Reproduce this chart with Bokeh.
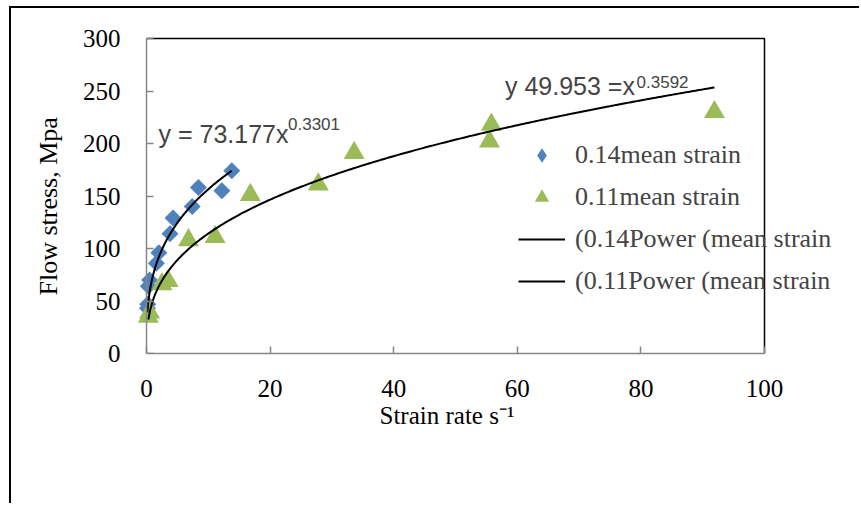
import numpy as np
from bokeh.plotting import figure
from bokeh.models import (FixedTicker, Legend, LegendItem, Label, Range1d, LinearAxis,
                          Title, CustomJSTickFormatter)
from bokeh.embed import file_html
from bokeh.resources import INLINE

# ---- data ----
rate_014 = [0.15, 0.2, 0.3, 0.5, 1.6, 2.0, 3.8, 4.3, 7.4, 8.4, 12.2, 13.8]
stress_014 = [43, 47, 64, 70, 86, 96, 114, 129, 140, 158, 155, 174]
rate_011 = [0.3, 0.5, 2.5, 3.5, 6.8, 11.1, 16.8, 27.8, 33.6, 55.5, 55.8, 91.9]
stress_011 = [35, 39, 66, 69, 108, 111, 151, 161, 191, 202, 218, 230]
# power trendline coefficients shown on the chart: y = a * x^b
fit_014 = (73.177, 0.3301)
fit_011 = (49.953, 0.3592)
x_ticks = [0, 20, 40, 60, 80, 100]
y_ticks = [0, 50, 100, 150, 200, 250, 300]
series_labels = ["0.14mean strain", "0.11mean strain",
                 "(0.14Power (mean strain", "(0.11Power (mean strain"]
x_title = "Strain rate s\u207b\u00b9"
y_title = "Flow stress, Mpa"

SERIF = "Liberation Serif"
SANS = "Liberation Sans"
AXIS_GREY = "#868686"
BLUE = "#4F81BD"
GREEN = "#9BBB59"

# ---- layout (pixels) ----
W, H = 850, 497             # canvas, placed 11px right / 8px down by margin+border
PLOT_W, PLOT_H = 618, 315   # size of the 0..100 x 0..300 box
PAD_L, PAD_R, PAD_T = 13, 86, 8   # frame extends past the box so nothing is clipped
px_x = PLOT_W / (x_ticks[-1] - x_ticks[0])
px_y = PLOT_H / (y_ticks[-1] - y_ticks[0])
x_range = Range1d(x_ticks[0] - PAD_L / px_x, x_ticks[-1] + PAD_R / px_x)
y_range = Range1d(y_ticks[0], y_ticks[-1] + PAD_T / px_y)

frame_left = 135 - PAD_L
frame_top = 30 - PAD_T
frame_w = PLOT_W + PAD_L + PAD_R
frame_h = PLOT_H + PAD_T

p = figure(width=W, height=H,
           min_border_left=frame_left, min_border_right=W - frame_left - frame_w,
           min_border_top=frame_top, min_border_bottom=H - frame_top - frame_h,
           x_range=x_range, y_range=y_range,
           output_backend="svg", toolbar_location=None)
p.margin = (6, 0, 0, 9)
p.styles = {"border-left": "2px solid black", "border-top": "2px solid black"}
p.outline_line_color = None
p.background_fill_color = "white"
p.border_fill_color = "white"
p.xgrid.visible = False
p.ygrid.visible = False


def style_axis(ax):
    ax.axis_line_color = AXIS_GREY
    ax.axis_line_width = 1.5
    ax.major_tick_line_color = AXIS_GREY
    ax.major_tick_line_width = 1.5
    ax.major_tick_in = 7
    ax.major_tick_out = 0
    ax.minor_tick_line_color = None
    ax.major_label_text_font = SERIF
    ax.major_label_text_font_size = "25px"
    ax.major_label_text_color = "black"


# x axis: line, ticks and labels
xax = p.xaxis[0]
style_axis(xax)
xax.ticker = FixedTicker(ticks=x_ticks)
xax.bounds = (x_ticks[0], x_ticks[-1])
xax.major_label_standoff = 26

# y axis labels (left panel, no line)
yax = p.yaxis[0]
style_axis(yax)
yax.ticker = FixedTicker(ticks=y_ticks)
yax.axis_line_color = None
yax.major_tick_line_color = None
yax.major_label_standoff = 13

# y axis line and ticks at x = 0
yline = LinearAxis(fixed_location=x_ticks[0], ticker=FixedTicker(ticks=y_ticks),
                   bounds=(y_ticks[0], y_ticks[-1]),
                   formatter=CustomJSTickFormatter(code="return ''"))
style_axis(yline)
yline.major_label_standoff = 0
p.add_layout(yline, "left")

# axis titles
p.add_layout(Title(text=x_title, align="left", offset=246, standoff=0,
                   text_font=SERIF, text_font_size="25px", text_font_style="normal",
                   text_color="black"),
             "below")
p.add_layout(Title(text=y_title, align="left", offset=58, standoff=34,
                   text_font=SERIF, text_font_size="26px", text_font_style="normal",
                   text_color="black"),
             "left")

# top and right edges of the plot box
p.line([x_ticks[0], x_ticks[-1], x_ticks[-1]], [y_ticks[-1], y_ticks[-1], y_ticks[0]],
       line_color="black", line_width=1.5)

r1 = p.scatter(rate_014, stress_014, marker="square", size=12, angle=np.pi / 4,
               fill_color=BLUE, line_color=None)
r2 = p.scatter(rate_011, stress_011, marker="triangle", size=21,
               fill_color=GREEN, line_color=None)

xs1 = np.linspace(min(rate_014), max(rate_014), 300)
xs2 = np.linspace(min(rate_011), max(rate_011), 300)
r3 = p.line(xs1, fit_014[0] * xs1 ** fit_014[1], line_color="black", line_width=2)
r4 = p.line(xs2, fit_011[0] * xs2 ** fit_011[1], line_color="black", line_width=2)

# legend swatch for the diamonds (the legend draws markers unrotated)
r1_key = p.scatter(x=[float("nan")], y=[float("nan")], marker="diamond",
                   fill_color=BLUE, line_color=None)

legend = Legend(items=[LegendItem(label=series_labels[0], renderers=[r1_key]),
                       LegendItem(label=series_labels[1], renderers=[r2]),
                       LegendItem(label=series_labels[2], renderers=[r3]),
                       LegendItem(label=series_labels[3], renderers=[r4])],
                location=(385, 51), border_line_color=None, background_fill_alpha=0,
                padding=0, margin=0, spacing=0, glyph_width=47, glyph_height=36,
                label_height=42, label_standoff=10,
                label_text_font=SERIF, label_text_font_size="26px")
p.add_layout(legend)

# trendline equations
p.add_layout(Label(x=1.94, y=208.6, text="y = 73.177x", text_font=SANS,
                   text_font_size="25px", text_baseline="alphabetic"))
p.add_layout(Label(x=22.9, y=218.1, text="0.3301", text_font=SANS,
                   text_font_size="17px", text_baseline="alphabetic"))
p.add_layout(Label(x=58.0, y=254.3, text="y 49.953 =x", text_font=SANS,
                   text_font_size="25px", text_baseline="alphabetic"))
p.add_layout(Label(x=79.3, y=258.1, text="0.3592", text_font=SANS,
                   text_font_size="17px", text_baseline="alphabetic"))

open("out.html", "w").write(file_html(p, INLINE))
